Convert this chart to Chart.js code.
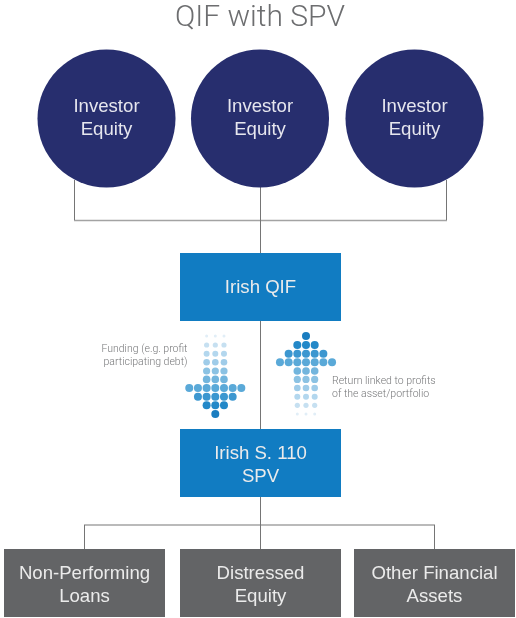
<!DOCTYPE html>
<html>
<head>
<meta charset="utf-8">
<script src="https://cdn.jsdelivr.net/npm/chart.js@4/dist/chart.umd.min.js"></script>
<style>
html, body { margin: 0; padding: 0; background: #fff; }
#wrap { width: 516px; height: 618px; position: relative; }
</style>
</head>
<body>
<div id="wrap"><canvas id="diagram"></canvas></div>
<script>
var titleText = "QIF with SPV";

// circles
var circleX = [106.5, 260, 414.5];
var circleY = [118.5, 118.5, 118.5];
var circleR = [69, 69, 69];
var circleLabels = [["Investor", "Equity"], ["Investor", "Equity"], ["Investor", "Equity"]];

// boxes: left, right, top, bottom
var boxLeft = [180, 180, 4, 180, 354];
var boxRight = [341, 341, 165, 341, 515];
var boxTop = [253, 429, 549, 549, 549];
var boxBottom = [321, 497, 617, 617, 617];
var boxColors = ["#117cc2", "#117cc2", "#636466", "#636466", "#636466"];
var boxLabels = [["Irish QIF"], ["Irish S. 110", "SPV"], ["Non-Performing", "Loans"], ["Distressed", "Equity"], ["Other Financial", "Assets"]];

// connector lines
var vLines = [[74.5, 180, 220], [260.5, 187, 253], [446.5, 180, 220], [260.5, 321, 429], [260.5, 497, 549], [84.5, 525, 549], [434.5, 525, 549]];
var hLines = [[74, 447, 220.5], [84, 435, 525]];

// dot arrows
var rowY = [336, 345, 353.7, 362.3, 371, 379.4, 388, 396.7, 405.3, 414];
var downCounts = [3, 3, 3, 3, 3, 3, 7, 5, 3, 1];
var upCounts = [1, 3, 5, 7, 3, 3, 3, 3, 3, 3];
var downRadius = [1.5, 2.6, 3, 3.3, 3.6, 3.8, 4, 4, 4, 4];
var upRadius = [4, 4, 4, 4, 3.8, 3.6, 3.3, 3, 2.6, 1.5];
var downColors = ["#e1eef7", "#c6e0f1", "#b3d7ee", "#9fcce9", "#8bc2e3", "#72b5dd", "#5aa9d8", "#3c97d0", "#2388c8", "#1a7dc0"];
var upColors = ["#1a7dc0", "#2388c8", "#3c97d0", "#5aa9d8", "#72b5dd", "#8bc2e3", "#9fcce9", "#b3d7ee", "#c6e0f1", "#e1eef7"];
var downCentre = 215.3;
var upCentre = 306;
var dotStep = 8.68;

var sideNotes = [
  { lines: ["Funding (e.g. profit", "participating debt)"], x: 187.5, y: [349, 362], align: "right" },
  { lines: ["Return linked to profits", "of the asset/portfolio"], x: 332, y: [381, 394], align: "left" }
];

function arrowDataset(counts, radius, colors, centre) {
  var pts = [], rad = [], col = [];
  counts.forEach(function (n, r) {
    for (var i = 0; i < n; i++) {
      pts.push({ x: centre + (i - (n - 1) / 2) * dotStep, y: rowY[r] });
      rad.push(radius[r]);
      col.push(colors[r]);
    }
  });
  return { data: pts, pointRadius: rad, pointBackgroundColor: col, pointBorderWidth: 0 };
}

function lineDataset(a, b, color, width) {
  return { data: [a, b], showLine: true, pointRadius: 0, borderColor: color, borderWidth: width };
}

var datasets = [];
// first dataset ends up on top
datasets.push(arrowDataset(downCounts, downRadius, downColors, downCentre));
datasets.push(arrowDataset(upCounts, upRadius, upColors, upCentre));
datasets.push({
  data: circleX.map(function (x, i) { return { x: x, y: circleY[i] }; }),
  pointRadius: circleR,
  pointBackgroundColor: "#272e6e",
  pointBorderWidth: 0
});
boxLeft.forEach(function (x, i) {
  datasets.push({
    data: [{ x: x, y: boxTop[i] }, { x: boxRight[i], y: boxTop[i] }],
    showLine: true,
    pointRadius: 0,
    borderWidth: 0,
    backgroundColor: boxColors[i],
    fill: { target: { value: boxBottom[i] } }
  });
});
vLines.forEach(function (l) {
  datasets.push(lineDataset({ x: l[0], y: l[1] }, { x: l[0], y: l[2] }, "#757575", 1));
});
hLines.forEach(function (l) {
  datasets.push(lineDataset({ x: l[0], y: l[2] }, { x: l[1], y: l[2] }, "#a3a3a3", 1.6));
});

var FONT = '"Roboto", "Liberation Sans", sans-serif';
var LABEL_FONT = '18.6px "Liberation Sans", sans-serif';

var textPlugin = {
  id: "diagramText",
  afterDatasetsDraw: function (chart) {
    var ctx = chart.ctx, sx = chart.scales.x, sy = chart.scales.y;
    function put(str, x, y, font, color, align) {
      ctx.font = font;
      ctx.fillStyle = color;
      ctx.textAlign = align || "center";
      ctx.textBaseline = "middle";
      ctx.fillText(str, sx.getPixelForValue(x), sy.getPixelForValue(y));
    }
    ctx.save();
    put(titleText, 260, 18, "300 30px " + FONT, "#6d6e70");
    circleLabels.forEach(function (lines, i) {
      put(lines[0], circleX[i], 106.5, LABEL_FONT, "#e6e6ee");
      put(lines[1], circleX[i], 129.5, LABEL_FONT, "#e6e6ee");
    });
    var boxLineY = [[287.5], [453.5, 476.5], [573.5, 596.5], [573.5, 596.5], [573.5, 596.5]];
    boxLabels.forEach(function (lines, i) {
      lines.forEach(function (t, j) {
        put(t, (boxLeft[i] + boxRight[i]) / 2, boxLineY[i][j], LABEL_FONT, "#ebebeb");
      });
    });
    sideNotes.forEach(function (n) {
      n.lines.forEach(function (t, j) {
        put(t, n.x, n.y[j], "300 10.5px " + FONT, "#77787a", n.align);
      });
    });
    ctx.restore();
  }
};

new Chart(document.getElementById("diagram"), {
  type: "scatter",
  data: { datasets: datasets },
  plugins: [textPlugin],
  options: {
    responsive: true,
    maintainAspectRatio: false,
    animation: false,
    layout: { padding: 0, autoPadding: false },
    plugins: { legend: { display: false }, tooltip: { enabled: false }, title: { display: false } },
    scales: {
      x: { type: "linear", min: 0, max: 516, display: false },
      y: { type: "linear", min: 0, max: 618, reverse: true, display: false }
    }
  }
});
</script>
</body>
</html>
